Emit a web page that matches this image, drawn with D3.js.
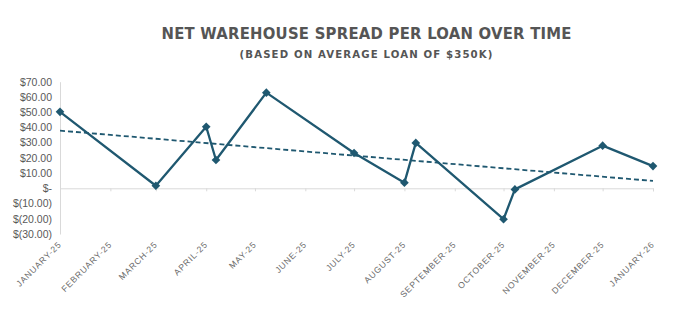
<!DOCTYPE html>
<html><head><meta charset="utf-8">
<script src="https://cdn.jsdelivr.net/npm/d3@7"></script>
<style>body{margin:0;background:#fff}svg{display:block}</style>
</head><body>
<svg id="c" width="675" height="322"></svg>
<script>
const dates = ["2025-01-01","2025-03-01","2025-04-01","2025-04-07","2025-05-08","2025-07-01","2025-08-01","2025-08-08","2025-10-01","2025-10-08","2025-12-01","2026-01-01"];
const values = [50.2, 1.7, 40.4, 18.6, 62.8, 23.2, 3.7, 29.8, -20.3, -0.7, 28.0, 14.6];
const tickLabels = ["JANUARY-25","FEBRUARY-25","MARCH-25","APRIL-25","MAY-25","JUNE-25","JULY-25","AUGUST-25","SEPTEMBER-25","OCTOBER-25","NOVEMBER-25","DECEMBER-25","JANUARY-26"];
const yTicks = [70,60,50,40,30,20,10,0,-10,-20,-30];
const title = "NET WAREHOUSE SPREAD PER LOAN OVER TIME";
const subtitle = "(BASED ON AVERAGE LOAN OF $350K)";

const parse = d3.utcParse("%Y-%m-%d");
const data = dates.map((d,i)=>({date:parse(d), v:values[i]}));
const tickDates = d3.utcMonths(parse("2025-01-01"), parse("2026-01-02"));

const svg = d3.select("#c");
const color = "#1f5870";
const x = d3.scaleUtc().domain([parse("2025-01-01"), parse("2026-01-01")]).range([60, 653]);
const y = d3.scaleLinear().domain([-30,70]).range([234, 81.7]);

// title
svg.append("text").attr("x",366.5).attr("y",38.5).attr("text-anchor","middle")
  .attr("font-family","'DejaVu Sans Condensed','DejaVu Sans', sans-serif").attr("font-weight","bold").attr("font-size",16.5)
  .attr("fill","#555").attr("textLength",410).attr("lengthAdjust","spacing").text(title);
svg.append("text").attr("x",366).attr("y",57.8).attr("text-anchor","middle")
  .attr("font-family","'DejaVu Sans Condensed','DejaVu Sans', sans-serif").attr("font-weight","bold").attr("font-size",11.3)
  .attr("fill","#555").attr("textLength",253).attr("lengthAdjust","spacing").text(subtitle);

// y axis
const yAxis = d3.axisLeft(y).tickValues(yTicks).tickSize(0).tickPadding(8)
  .tickFormat(v => v===0 ? "$-" : v<0 ? `$(${(-v).toFixed(2)})` : `$${v.toFixed(2)}`);
const gy = svg.append("g").attr("transform","translate(60,0)").call(yAxis);
gy.select(".domain").attr("stroke","#d9d9d9");
gy.selectAll("text").attr("font-family","'Liberation Sans', Arial, sans-serif").attr("font-size",10.5).attr("fill","#595959");

// x axis at zero
const xAxis = d3.axisBottom(x).tickValues(tickDates).tickSize(3).tickFormat("");
const gx = svg.append("g").attr("transform",`translate(0,${y(0)})`).call(xAxis);
gx.select(".domain").attr("stroke","#d9d9d9");
gx.selectAll(".tick line").attr("stroke","#d9d9d9");

// x labels at bottom
svg.append("g").selectAll("text").data(tickDates).join("text")
  .attr("transform", (d)=>`translate(${x(d)+2},${245}) rotate(-45)`)
  .attr("text-anchor","end")
  .attr("font-family","'Liberation Sans', Arial, sans-serif").attr("font-size",8.6)
  .attr("letter-spacing",0.8).attr("fill","#6a6a6a")
  .text((d,i)=>tickLabels[i]);

// trendline (linear regression on date)
const xs = data.map(d=>+d.date), ys = data.map(d=>d.v);
const mx = d3.mean(xs), my = d3.mean(ys);
const slope = d3.sum(xs.map((xv,i)=>(xv-mx)*(ys[i]-my))) / d3.sum(xs.map(xv=>(xv-mx)**2));
const icpt = my - slope*mx;
const t0 = data[0].date, t1 = data[data.length-1].date;
svg.append("line").attr("x1",x(t0)).attr("x2",x(t1))
  .attr("y1",y(icpt+slope*(+t0))).attr("y2",y(icpt+slope*(+t1)))
  .attr("stroke",color).attr("stroke-width",1.8).attr("stroke-dasharray","5,3");

// line
svg.append("path").datum(data)
  .attr("d", d3.line().x(d=>x(d.date)).y(d=>y(d.v)))
  .attr("fill","none").attr("stroke",color).attr("stroke-width",2.3).attr("stroke-linejoin","round");

// markers
svg.append("g").selectAll("path").data(data).join("path")
  .attr("d", d3.symbol(d3.symbolDiamond2, 48)())
  .attr("fill",color)
  .attr("transform", d=>`translate(${x(d.date)},${y(d.v)})`);
</script>
</body></html>
